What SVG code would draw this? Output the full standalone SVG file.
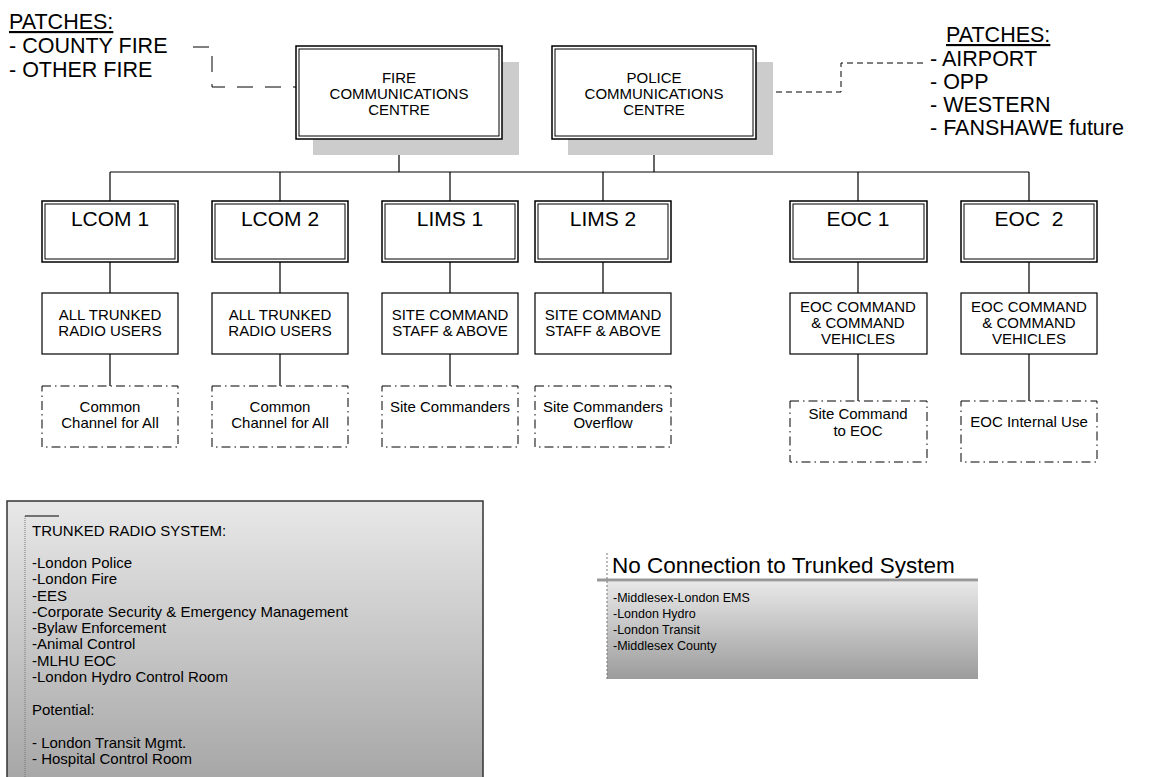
<svg xmlns="http://www.w3.org/2000/svg" width="1155" height="777" viewBox="0 0 1155 777">
<style>
text{font-family:"Liberation Sans",Arial,sans-serif;fill:#000}
.o{fill:#fff;stroke:#000;stroke-width:1.5}
.i{fill:none;stroke:#000;stroke-width:1}
.sh{fill:#cccccc}
.box{fill:#fff;stroke:#000;stroke-width:1.2}
.dd{fill:#fff;stroke:#000;stroke-width:1;stroke-dasharray:9,4,1.5,4}
.c{fill:none;stroke:#000;stroke-width:1.2}
.t15{font-size:15px;text-anchor:middle}
.t21{font-size:21px;text-anchor:middle}
.p{font-size:21.5px}
.l15{font-size:15px}
.l13{font-size:12.5px}
</style>
<defs>
<linearGradient id="g1" x1="0" y1="0" x2="0" y2="1"><stop offset="0" stop-color="#e8e8e8"/><stop offset="1" stop-color="#a4a4a4"/></linearGradient>
<linearGradient id="g2" x1="0" y1="0" x2="0" y2="1"><stop offset="0" stop-color="#e8e8e8"/><stop offset="1" stop-color="#9c9c9c"/></linearGradient>
</defs>

<g id="patches-left">
<text class="p" x="9" y="29" text-decoration="underline">PATCHES:</text>
<text class="p" x="9" y="53">- COUNTY FIRE</text>
<text class="p" x="9" y="77">- OTHER FIRE</text>
</g>
<g id="patches-right">
<text class="p" x="946" y="42" text-decoration="underline">PATCHES:</text>
<text class="p" x="930" y="66">- AIRPORT</text>
<text class="p" x="930" y="89">- OPP</text>
<text class="p" x="930" y="112">- WESTERN</text>
<text class="p" x="930" y="135">- FANSHAWE future</text>
</g>

<g id="connectors">
<path class="c" d="M399,139 V172 M654,139 V172 M110,172 H1029 M110,172 V201 M280,172 V201 M450,172 V201 M603,172 V201 M858,172 V201 M1029,172 V201"/>
<path class="c" d="M110,262 V293 M280,262 V293 M450,262 V293 M603,262 V293 M858,262 V293 M1029,262 V293"/>
<path class="c" d="M110,354 V386 M280,354 V386 M450,354 V386 M858,354 V401 M1029,354 V401"/>
<path fill="none" stroke="#000" stroke-width="1" stroke-dasharray="16,12" d="M193,47 H212 V87 H296"/>
<path fill="none" stroke="#000" stroke-width="1" stroke-dasharray="6,4" d="M756,92 H841 V63 H926"/>
</g>

<g id="fire">
<rect class="sh" x="313" y="62" width="206" height="93"/>
<rect class="o" x="296" y="46" width="206" height="93"/>
<rect class="i" x="299" y="49" width="200" height="87"/>
<text class="t15" x="399" y="83">FIRE</text>
<text class="t15" x="399" y="99">COMMUNICATIONS</text>
<text class="t15" x="399" y="115">CENTRE</text>
</g>
<g id="police">
<rect class="sh" x="568" y="62" width="205" height="93"/>
<rect class="o" x="552" y="46" width="204" height="93"/>
<rect class="i" x="555" y="49" width="198" height="87"/>
<text class="t15" x="654" y="83">POLICE</text>
<text class="t15" x="654" y="99">COMMUNICATIONS</text>
<text class="t15" x="654" y="115">CENTRE</text>
</g>

<g id="lcom1">
<rect class="o" x="42" y="201" width="136" height="61"/><rect class="i" x="45" y="204" width="130" height="55"/>
<text class="t21" x="110" y="226">LCOM 1</text>
</g>
<g id="lcom2">
<rect class="o" x="212" y="201" width="136" height="61"/><rect class="i" x="215" y="204" width="130" height="55"/>
<text class="t21" x="280" y="226">LCOM 2</text>
</g>
<g id="lims1">
<rect class="o" x="382" y="201" width="136" height="61"/><rect class="i" x="385" y="204" width="130" height="55"/>
<text class="t21" x="450" y="226">LIMS 1</text>
</g>
<g id="lims2">
<rect class="o" x="535" y="201" width="136" height="61"/><rect class="i" x="538" y="204" width="130" height="55"/>
<text class="t21" x="603" y="226">LIMS 2</text>
</g>
<g id="eoc1">
<rect class="o" x="790" y="201" width="137" height="61"/><rect class="i" x="793" y="204" width="131" height="55"/>
<text class="t21" x="858" y="226">EOC 1</text>
</g>
<g id="eoc2">
<rect class="o" x="961" y="201" width="136" height="61"/><rect class="i" x="964" y="204" width="130" height="55"/>
<text class="t21" x="1029" y="226" xml:space="preserve">EOC  2</text>
</g>

<g id="users1">
<rect class="box" x="42" y="293" width="136" height="61"/>
<text class="t15" x="110" y="320">ALL TRUNKED</text><text class="t15" x="110" y="336">RADIO USERS</text>
</g>
<g id="users2">
<rect class="box" x="212" y="293" width="136" height="61"/>
<text class="t15" x="280" y="320">ALL TRUNKED</text><text class="t15" x="280" y="336">RADIO USERS</text>
</g>
<g id="staff1">
<rect class="box" x="382" y="293" width="136" height="61"/>
<text class="t15" x="450" y="320">SITE COMMAND</text><text class="t15" x="450" y="336">STAFF &amp; ABOVE</text>
</g>
<g id="staff2">
<rect class="box" x="535" y="293" width="136" height="61"/>
<text class="t15" x="603" y="320">SITE COMMAND</text><text class="t15" x="603" y="336">STAFF &amp; ABOVE</text>
</g>
<g id="eoccmd1">
<rect class="box" x="790" y="293" width="137" height="61"/>
<text class="t15" x="858" y="312">EOC COMMAND</text><text class="t15" x="858" y="328">&amp; COMMAND</text><text class="t15" x="858" y="344">VEHICLES</text>
</g>
<g id="eoccmd2">
<rect class="box" x="961" y="293" width="136" height="61"/>
<text class="t15" x="1029" y="312">EOC COMMAND</text><text class="t15" x="1029" y="328">&amp; COMMAND</text><text class="t15" x="1029" y="344">VEHICLES</text>
</g>

<g id="chan1">
<rect class="dd" x="42" y="386" width="136" height="61"/>
<text class="t15" x="110" y="412">Common</text><text class="t15" x="110" y="428">Channel for All</text>
</g>
<g id="chan2">
<rect class="dd" x="212" y="386" width="136" height="61"/>
<text class="t15" x="280" y="412">Common</text><text class="t15" x="280" y="428">Channel for All</text>
</g>
<g id="sitecmd">
<rect class="dd" x="382" y="386" width="136" height="61"/>
<text class="t15" x="450" y="412">Site Commanders</text>
</g>
<g id="siteoverflow">
<rect class="dd" x="535" y="386" width="136" height="61"/>
<text class="t15" x="603" y="412">Site Commanders</text><text class="t15" x="603" y="428">Overflow</text>
</g>
<g id="sitetoeoc">
<rect class="dd" x="790" y="401" width="137" height="61"/>
<text class="t15" x="858" y="419">Site Command</text><text class="t15" x="858" y="436">to EOC</text>
</g>
<g id="eocinternal">
<rect class="dd" x="961" y="401" width="136" height="61"/>
<text class="t15" x="1029" y="427">EOC Internal Use</text>
</g>

<g id="legend-trunked">
<rect x="7" y="501" width="476" height="290" fill="url(#g1)" stroke="#333" stroke-width="1.5"/>
<line x1="25" y1="516" x2="25" y2="777" stroke="#777" stroke-width="1" stroke-dasharray="1,1"/>
<line x1="25" y1="516" x2="59" y2="516" stroke="#000" stroke-width="1"/>
<text class="l15" x="32" y="536">TRUNKED RADIO SYSTEM:</text>
<text class="l15" x="32" y="568">-London Police</text>
<text class="l15" x="32" y="584">-London Fire</text>
<text class="l15" x="32" y="601">-EES</text>
<text class="l15" x="32" y="617">-Corporate Security &amp; Emergency Management</text>
<text class="l15" x="32" y="633">-Bylaw Enforcement</text>
<text class="l15" x="32" y="649">-Animal Control</text>
<text class="l15" x="32" y="666">-MLHU EOC</text>
<text class="l15" x="32" y="682">-London Hydro Control Room</text>
<text class="l15" x="32" y="715">Potential:</text>
<text class="l15" x="32" y="748">- London Transit Mgmt.</text>
<text class="l15" x="32" y="764">- Hospital Control Room</text>
</g>

<g id="legend-noconn">
<rect x="607" y="582" width="371" height="97" fill="url(#g2)"/>
<line x1="597" y1="580" x2="978" y2="580" stroke="#999" stroke-width="3"/>
<line x1="607" y1="553" x2="607" y2="679" stroke="#777" stroke-width="1" stroke-dasharray="2,2"/>
<text x="612" y="573" font-size="22.5">No Connection to Trunked System</text>
<text class="l13" x="613" y="602">-Middlesex-London EMS</text>
<text class="l13" x="613" y="618">-London Hydro</text>
<text class="l13" x="613" y="634">-London Transit</text>
<text class="l13" x="613" y="650">-Middlesex County</text>
</g>
</svg>
